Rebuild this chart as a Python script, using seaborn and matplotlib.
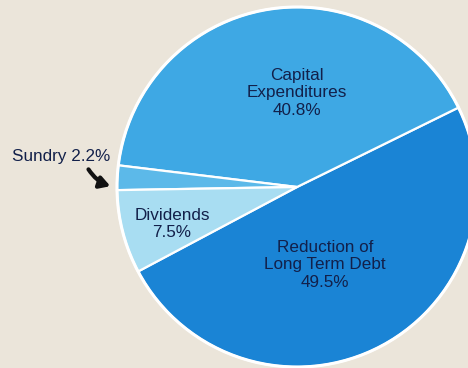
import matplotlib
matplotlib.use("Agg")
import matplotlib.pyplot as plt
import seaborn as sns

# Uses of funds, percent of total (counter-clockwise from lower right)
categories = ["Reduction of\nLong Term Debt", "Capital\nExpenditures", "Sundry", "Dividends"]
shares = [49.5, 40.8, 2.2, 7.5]
colors = sns.color_palette(["#1a84d5", "#3ea8e4", "#5cb9e9", "#a8ddf2"])

sns.set_style("white")
plt.rcParams["font.family"] = ["Liberation Sans", "DejaVu Sans"]

bg = "#ebe5da"
fig = plt.figure(figsize=(4.68, 3.68), dpi=100, facecolor=bg)
ax = fig.add_axes([0, 0, 1, 1])
ax.set_facecolor(bg)

R = 180.0  # pie radius in pixels
cx, cy = 297.0, 181.0  # pie centre in pixels from left / bottom

wedges, _ = ax.pie(
    shares,
    colors=colors,
    startangle=-152,
    counterclock=True,
    radius=1.0,
    center=(0, 0),
    wedgeprops=dict(edgecolor="white", linewidth=1.6),
    frame=True,
)
ax.set_xlim(-cx / R, (468 - cx) / R)
ax.set_ylim(-cy / R, (368 - cy) / R)
ax.set_aspect("equal")
ax.axis("off")

# outer white rim
rim = plt.Circle((0, 0), 1.0, fill=False, edgecolor="white", linewidth=2.2)
ax.add_patch(rim)

txt = "#12204a"
fs = 12.3


def px(x, y):
    """pixel position (from top-left) to data coords"""
    return (x - cx) / R, ((368 - y) - cy) / R


labels = [
    (f"{categories[1]}\n{shares[1]}%", px(297, 93)),
    (f"{categories[0]}\n{shares[0]}%", px(325, 265)),
    (f"{categories[3]}\n{shares[3]}%", px(172, 224)),
]
for s, (x, y) in labels:
    ax.text(x, y, s, ha="center", va="center", fontsize=fs, color=txt,
            linespacing=1.2)

sx, sy = px(61, 157)
ax.text(sx, sy, f"{categories[2]} {shares[2]}%", ha="center", va="center",
        fontsize=fs, color=txt)

ax.annotate(
    "", xy=px(113, 187), xytext=px(87, 167),
    arrowprops=dict(arrowstyle="-|>,head_length=0.6,head_width=0.35",
                    color="#111111", linewidth=3.0,
                    connectionstyle="arc3,rad=0.2"),
)

fig.savefig("out.png", dpi=100, facecolor=bg)
